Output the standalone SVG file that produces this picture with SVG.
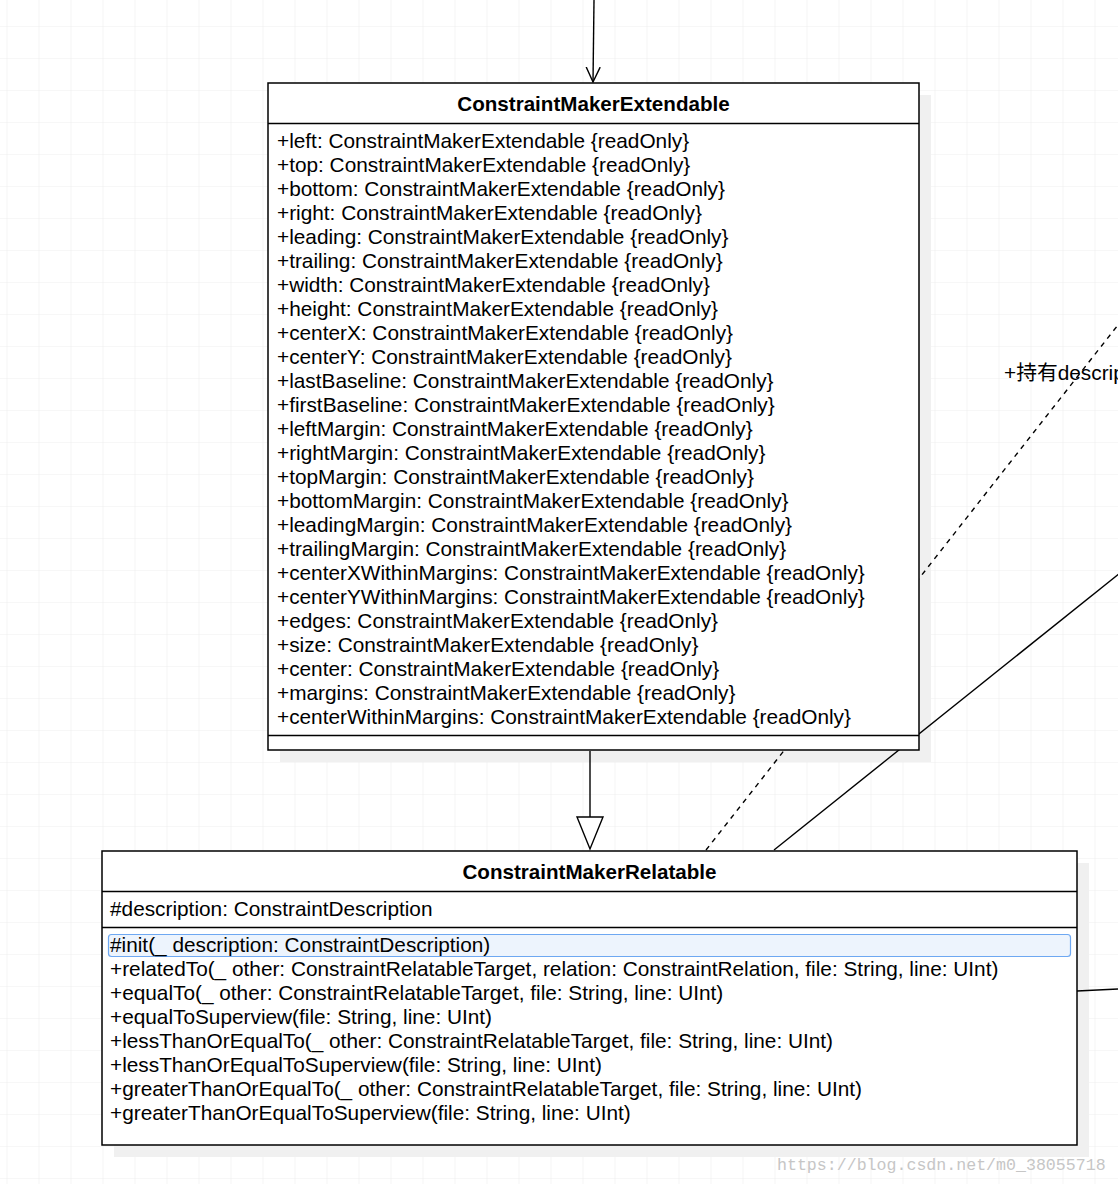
<svg xmlns="http://www.w3.org/2000/svg" width="1118" height="1184" viewBox="0 0 1118 1184">
<defs>
<pattern id="grid" x="6.5" y="26" width="32" height="32" patternUnits="userSpaceOnUse">
<path d="M0 0H32M0 0V32" fill="none" stroke="#efefef" stroke-width="1.2"/>
</pattern>
<marker id="open" markerWidth="16" markerHeight="20" refX="15" refY="8" orient="auto" markerUnits="userSpaceOnUse">
<path d="M0 1L15 8L0 15" fill="none" stroke="#000" stroke-width="1.4"/>
</marker>
</defs>
<style>
text{font-family:"Liberation Sans",Arial,"Noto Sans CJK SC",sans-serif;font-size:20.8px;fill:#000}
.t{font-weight:bold;text-anchor:middle;font-size:20.6px}
.box{fill:#fff;stroke:#000;stroke-width:1.5}
.sh{fill:#f0f0f0}
.ln{stroke:#000;stroke-width:1.4;fill:none}
.wm{font-family:"Liberation Mono","DejaVu Sans Mono",monospace;font-size:16.6px;fill:#c6c6c6}
</style>
<rect width="1118" height="1184" fill="#fff"/>
<rect width="1118" height="1184" fill="url(#grid)"/>
<rect class="sh" x="280" y="95" width="651" height="667"/>
<rect class="sh" x="114" y="863" width="975" height="294"/>
<g id="connectors">
<line class="ln" x1="594" y1="0" x2="593" y2="82" marker-end="url(#open)"/>
<line class="ln" x1="590" y1="751" x2="590" y2="817"/>
<path d="M577 817H603L590 849Z" fill="#fff" stroke="#000" stroke-width="1.4"/>
<line class="ln" x1="706" y1="850" x2="1125" y2="316" stroke-dasharray="5,5"/>
<line class="ln" x1="774" y1="850" x2="1125" y2="569"/>
<line class="ln" x1="1077" y1="991" x2="1118" y2="989"/>
<text x="1004" y="380">+持有descrip</text>
</g>
<g id="ConstraintMakerExtendable">
<rect class="box" x="268" y="83" width="651" height="667"/>
<line class="ln" x1="268" y1="123.5" x2="919" y2="123.5"/>
<line class="ln" x1="268" y1="735.5" x2="919" y2="735.5"/>
<text class="t" x="593.5" y="111">ConstraintMakerExtendable</text>
<text x="277" y="148">+left: ConstraintMakerExtendable {readOnly}</text>
<text x="277" y="172">+top: ConstraintMakerExtendable {readOnly}</text>
<text x="277" y="196">+bottom: ConstraintMakerExtendable {readOnly}</text>
<text x="277" y="220">+right: ConstraintMakerExtendable {readOnly}</text>
<text x="277" y="244">+leading: ConstraintMakerExtendable {readOnly}</text>
<text x="277" y="268">+trailing: ConstraintMakerExtendable {readOnly}</text>
<text x="277" y="292">+width: ConstraintMakerExtendable {readOnly}</text>
<text x="277" y="316">+height: ConstraintMakerExtendable {readOnly}</text>
<text x="277" y="340">+centerX: ConstraintMakerExtendable {readOnly}</text>
<text x="277" y="364">+centerY: ConstraintMakerExtendable {readOnly}</text>
<text x="277" y="388">+lastBaseline: ConstraintMakerExtendable {readOnly}</text>
<text x="277" y="412">+firstBaseline: ConstraintMakerExtendable {readOnly}</text>
<text x="277" y="436">+leftMargin: ConstraintMakerExtendable {readOnly}</text>
<text x="277" y="460">+rightMargin: ConstraintMakerExtendable {readOnly}</text>
<text x="277" y="484">+topMargin: ConstraintMakerExtendable {readOnly}</text>
<text x="277" y="508">+bottomMargin: ConstraintMakerExtendable {readOnly}</text>
<text x="277" y="532">+leadingMargin: ConstraintMakerExtendable {readOnly}</text>
<text x="277" y="556">+trailingMargin: ConstraintMakerExtendable {readOnly}</text>
<text x="277" y="580">+centerXWithinMargins: ConstraintMakerExtendable {readOnly}</text>
<text x="277" y="604">+centerYWithinMargins: ConstraintMakerExtendable {readOnly}</text>
<text x="277" y="628">+edges: ConstraintMakerExtendable {readOnly}</text>
<text x="277" y="652">+size: ConstraintMakerExtendable {readOnly}</text>
<text x="277" y="676">+center: ConstraintMakerExtendable {readOnly}</text>
<text x="277" y="700">+margins: ConstraintMakerExtendable {readOnly}</text>
<text x="277" y="724">+centerWithinMargins: ConstraintMakerExtendable {readOnly}</text>
</g>
<g id="ConstraintMakerRelatable">
<rect class="box" x="102" y="851" width="975" height="294"/>
<line class="ln" x1="102" y1="891.5" x2="1077" y2="891.5"/>
<line class="ln" x1="102" y1="927.5" x2="1077" y2="927.5"/>
<text class="t" x="589.5" y="879">ConstraintMakerRelatable</text>
<text x="110" y="916">#description: ConstraintDescription</text>
<rect x="108.5" y="934.5" width="962" height="22" rx="3" fill="#edf4fd" stroke="#6ea8f2" stroke-width="1.2"/>
<text x="110" y="952">#init(_ description: ConstraintDescription)</text>
<text x="110" y="976">+relatedTo(_ other: ConstraintRelatableTarget, relation: ConstraintRelation, file: String, line: UInt)</text>
<text x="110" y="1000">+equalTo(_ other: ConstraintRelatableTarget, file: String, line: UInt)</text>
<text x="110" y="1024">+equalToSuperview(file: String, line: UInt)</text>
<text x="110" y="1048">+lessThanOrEqualTo(_ other: ConstraintRelatableTarget, file: String, line: UInt)</text>
<text x="110" y="1072">+lessThanOrEqualToSuperview(file: String, line: UInt)</text>
<text x="110" y="1096">+greaterThanOrEqualTo(_ other: ConstraintRelatableTarget, file: String, line: UInt)</text>
<text x="110" y="1120">+greaterThanOrEqualToSuperview(file: String, line: UInt)</text>
</g>
<text class="wm" x="777" y="1170">https://blog.csdn.net/m0_38055718</text>
</svg>
